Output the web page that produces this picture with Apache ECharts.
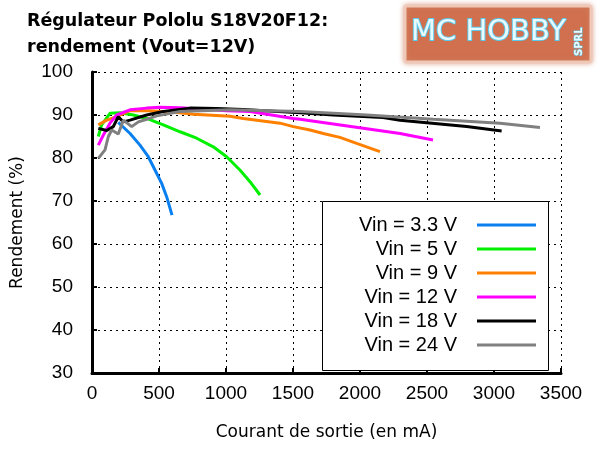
<!DOCTYPE html>
<html>
<head>
<meta charset="utf-8">
<script src="https://cdn.jsdelivr.net/npm/echarts@6/dist/echarts.min.js"></script>
<style>html,body{margin:0;padding:0;background:#fff}#c{width:600px;height:450px}</style>
</head>
<body>
<div id="c"></div>
<script>
const seriesNames = ['Vin = 3.3 V', 'Vin = 5 V', 'Vin = 9 V', 'Vin = 12 V', 'Vin = 18 V', 'Vin = 24 V'];
const seriesColors = ['#0a80f0', '#00f000', '#ff8000', '#ff00ff', '#000000', '#808080'];
const vin3v3 = [[196,88.3],[284,85.7],[358,83.0],[420,80.3],[470,77.2],[520,74.1],[557,71.0],[597,66.7]];
const vin5 = [[47,85.0],[72,87.7],[134,90.4],[209,90.5],[308,90.0],[408,89.2],[532,87.7],[657,86.1],[781,84.6],[905,82.6],[1005,80.3],[1104,77.2],[1179,74.5],[1254,71.4]];
const vin9 = [[47,87.7],[110,88.8],[184,89.6],[284,91.0],[420,91.0],[600,90.7],[756,90.2],[1030,89.7],[1129,89.2],[1403,88.1],[1502,87.3],[1627,86.5],[1726,85.7],[1850,84.8],[1975,83.4],[2149,81.5]];
const vin12 = [[47,83.0],[84,85.3],[134,88.1],[184,90.0],[284,91.2],[408,91.6],[507,91.8],[657,91.7],[1005,91.0],[1179,90.8],[1502,89.2],[1552,89.0],[2050,86.8],[2299,85.7],[2545,84.2]];
const vin18 = [[47,86.9],[110,86.4],[159,87.3],[196,89.6],[234,88.4],[284,88.8],[408,90.0],[532,90.8],[731,91.6],[930,91.5],[1129,91.3],[1552,90.5],[1801,90.0],[2172,89.4],[2299,88.8],[2796,87.3],[3057,86.3]];
const vin24 = [[47,79.9],[97,81.9],[122,85.0],[147,86.5],[196,85.6],[234,88.8],[296,87.3],[346,88.4],[408,89.0],[483,89.8],[657,90.8],[1030,91.2],[1552,90.8],[2050,90.0],[2547,89.0],[3045,88.1],[3343,87.1]];
const allData = [vin3v3, vin5, vin9, vin12, vin18, vin24];
const xTicks = [0, 500, 1000, 1500, 2000, 2500, 3000, 3500];
const yTicks = [30, 40, 50, 60, 70, 80, 90, 100];

const chart = echarts.init(document.getElementById('c'), null, {renderer: 'canvas'});
const gridLine = {show: true, lineStyle: {color: '#000', width: 1, type: [2, 4]}};
chart.setOption({
  animation: false,
  backgroundColor: '#fff',
  title: {
    text: 'Régulateur Pololu S18V20F12:\nrendement (Vout=12V)',
    left: 22, top: 3,
    textStyle: {fontFamily: 'DejaVu Sans', fontWeight: 'bold', fontSize: 17.5, lineHeight: 26, color: '#000'}
  },
  grid: {left: 92, right: 39, top: 72, bottom: 77},
  xAxis: {
    type: 'value', min: xTicks[0], max: xTicks[xTicks.length - 1], interval: 500,
    name: 'Courant de sortie (en mA)', nameLocation: 'middle', nameGap: 51,
    nameTextStyle: {fontFamily: 'DejaVu Sans', fontSize: 17, color: '#000'},
    axisLine: {show: true, lineStyle: {color: '#000', width: 3}},
    axisTick: {show: true, inside: true, length: 5, lineStyle: {color: '#000', width: 2}},
    axisLabel: {fontFamily: 'Liberation Sans', fontSize: 19, color: '#000', margin: 11, formatter: v => String(v)},
    splitLine: gridLine
  },
  yAxis: {
    type: 'value', min: yTicks[0], max: yTicks[yTicks.length - 1], interval: 10,
    name: 'Rendement (%)', nameLocation: 'middle', nameGap: 66,
    nameTextStyle: {fontFamily: 'DejaVu Sans', fontSize: 17, color: '#000'},
    axisLine: {show: true, lineStyle: {color: '#000', width: 3}},
    axisTick: {show: true, inside: true, length: 5, lineStyle: {color: '#000', width: 2}},
    axisLabel: {fontFamily: 'Liberation Sans', fontSize: 19, color: '#000', margin: 19, formatter: v => String(v)},
    splitLine: gridLine
  },
  legend: {
    orient: 'vertical', align: 'right', right: 64, top: 215, padding: 0,
    itemGap: 4, itemWidth: 59, itemHeight: 3, icon: 'rect',
    textStyle: {fontFamily: 'Liberation Sans', fontSize: 20, color: '#000', lineHeight: 20, padding: [0, 15, 0, 0]},
    data: seriesNames
  },
  graphic: [
    {type: 'rect', z: 3, shape: {x: 322.5, y: 201.5, width: 226, height: 169}, style: {fill: '#fff', stroke: '#000', lineWidth: 1}},
    {type: 'rect', z: 3, shape: {x: 405, y: 6, width: 186, height: 56, r: 2}, style: {fill: '#d0704e', stroke: '#f0c8b8', lineWidth: 3, shadowBlur: 5, shadowColor: 'rgba(210,140,110,0.7)'}},
    {type: 'text', z: 4, x: 411, y: 18, style: {text: 'MC HOBBY', fontFamily: 'DejaVu Sans', fontSize: 29, fill: '#e6faff', stroke: '#5cc8ea', lineWidth: 2}},
    {type: 'text', z: 4, x: 574, y: 56, rotation: Math.PI / 2, style: {text: 'SPRL', fontFamily: 'DejaVu Sans', fontSize: 10, fontWeight: 'bold', fill: '#e6faff', stroke: '#5cc8ea', lineWidth: 1}}
  ],
  series: seriesNames.map((n, i) => ({
    name: n, type: 'line', data: allData[i], showSymbol: false, symbol: 'none',
    z: 2,
    color: seriesColors[i],
    lineStyle: {color: seriesColors[i], width: 3},
    itemStyle: {color: seriesColors[i]}
  }))
});
</script>
</body>
</html>
